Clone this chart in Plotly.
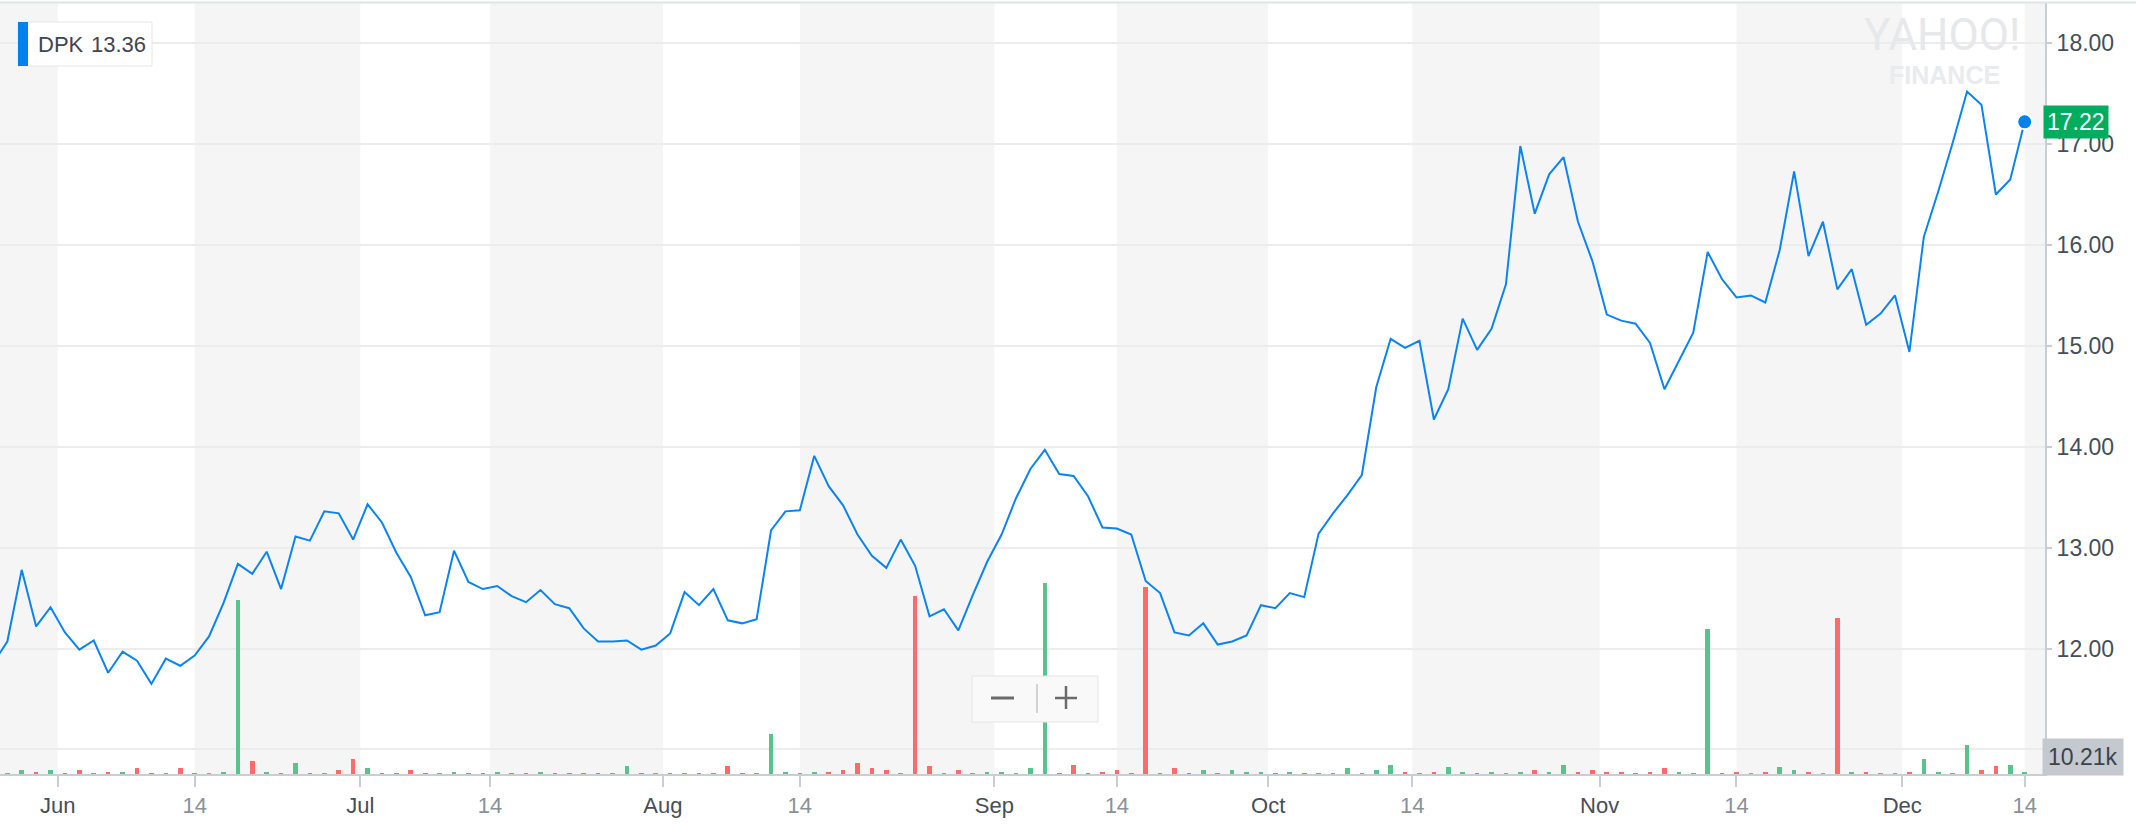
import plotly.graph_objects as go
import pandas as pd

# ---------------- data ----------------
holidays = ["2018-05-28", "2018-07-04", "2018-09-03", "2018-11-22", "2018-12-05"]
dates = [d.strftime("%Y-%m-%d") for d in pd.bdate_range("2018-05-24", "2018-12-14")
         if d.strftime("%Y-%m-%d") not in holidays]

close = [
    11.85, 12.07, 12.78, 12.22, 12.41, 12.16, 11.99, 12.08, 11.76, 11.97,
    11.88, 11.65, 11.90, 11.83, 11.93, 12.12, 12.45, 12.84, 12.74, 12.96,
    12.59, 13.11, 13.07, 13.36, 13.34, 13.08, 13.43, 13.25, 12.95, 12.71,
    12.33, 12.36, 12.97, 12.66, 12.59, 12.62, 12.52, 12.46, 12.58, 12.44,
    12.40, 12.20, 12.07, 12.07, 12.08, 11.99, 12.03, 12.15, 12.56, 12.43,
    12.59, 12.28, 12.25, 12.29, 13.17, 13.36, 13.37, 13.91, 13.61, 13.42,
    13.13, 12.92, 12.80, 13.08, 12.82, 12.32, 12.39, 12.18, 12.53, 12.86,
    13.13, 13.49, 13.78, 13.97, 13.73, 13.71, 13.51, 13.20, 13.19, 13.13,
    12.67, 12.55, 12.16, 12.13, 12.25, 12.04, 12.07, 12.13, 12.43, 12.40,
    12.55, 12.51, 13.14, 13.34, 13.52, 13.72, 14.59, 15.07, 14.98, 15.05,
    14.27, 14.57, 15.27, 14.96, 15.17, 15.61, 16.98, 16.31, 16.70, 16.87,
    16.23, 15.84, 15.31, 15.25, 15.22, 15.03, 14.57, 14.85, 15.13, 15.93,
    15.66, 15.48, 15.50, 15.43, 15.95, 16.73, 15.89, 16.23, 15.56, 15.76,
    15.21, 15.32, 15.50, 14.94, 16.08, 16.53, 17.01, 17.52, 17.39, 16.50,
    16.65, 17.22,
]

volume_k = [
    4.1, 4.1, 22.0, 11.7, 22.0, 4.1, 20.4, 4.1, 11.7, 11.7,
    30.6, 4.1, 4.1, 30.6, 4.1, 4.1, 11.7, 889.8, 67.9, 11.7,
    4.1, 57.7, 4.1, 4.1, 20.4, 76.6, 30.6, 4.1, 2.6, 20.4,
    4.1, 4.1, 11.7, 4.1, 4.1, 11.7, 4.1, 2.6, 11.7, 4.1,
    2.6, 4.1, 4.1, 2.6, 39.3, 4.1, 4.1, 2.6, 4.1, 2.6,
    2.6, 39.3, 4.1, 2.6, 204.2, 11.7, 4.1, 11.7, 11.7, 20.4,
    57.7, 30.6, 20.4, 4.1, 910.2, 39.3, 2.6, 20.4, 4.1, 11.7,
    11.7, 4.1, 30.6, 973.5, 4.1, 47.5, 4.1, 11.7, 20.4, 4.1,
    956.2, 2.6, 30.6, 4.1, 20.4, 4.1, 20.4, 11.7, 11.7, 4.1,
    11.7, 2.6, 4.1, 2.6, 30.6, 2.6, 20.4, 47.5, 11.7, 4.1,
    11.7, 35.7, 11.7, 4.1, 11.7, 4.1, 11.7, 20.4, 11.7, 46.0,
    11.7, 20.4, 11.7, 11.7, 4.1, 11.7, 30.6, 11.7, 4.1, 740.2,
    4.1, 11.7, 4.1, 11.7, 35.7, 20.4, 10.2, 4.1, 794.3, 10.2,
    10.2, 4.1, 2.6, 10.2, 76.6, 10.2, 4.1, 148.0, 20.4, 39.3,
    47.5, 10.21,
]

tick_dates = ["2018-06-01", "2018-06-14", "2018-07-01", "2018-07-14", "2018-08-01",
              "2018-08-14", "2018-09-01", "2018-09-14", "2018-10-01", "2018-10-14",
              "2018-11-01", "2018-11-14", "2018-12-01", "2018-12-14"]
tick_labels = ["Jun", "14", "Jul", "14", "Aug", "14", "Sep", "14", "Oct", "14",
               "Nov", "14", "Dec", "14"]

price_ticks = [11, 12, 13, 14, 15, 16, 17, 18]
ticker = "DPK"
prev_close = "13.36"
last_volume_label = "10.21k"

assert len(dates) == len(close) == len(volume_k), (len(dates), len(close), len(volume_k))

# ---------------- derived ----------------
xpos = list(range(len(dates)))
volume = [v * 1000 for v in volume_k]
GREEN, RED = "#58c48c", "#ff6b6b"
bar_colors = [GREEN] + [GREEN if close[i] >= close[i - 1] else RED for i in range(1, len(close))]

def tick_position(td, label):
    j = next(i for i, d in enumerate(dates) if d >= td)
    if label == "14" and dates[j] == td:
        return j
    return j - 0.5

tick_pos = [tick_position(d, l) for d, l in zip(tick_dates, tick_labels)]
tick_text = [l if l != "14" else "<span style='color:#8b9197'>14</span>" for l in tick_labels]

X_RANGE = [0.493, 142.41]
Y_RANGE = [10.757, 18.398]
V_RANGE = [0, 771 * 5105]

FONT = "Helvetica Neue, Helvetica, Liberation Sans, Arial, sans-serif"

# pixel -> paper helpers (plot area: x 0..2045, y 3..774)
PW, PT, PB = 2045.0, 3.0, 774.0
def px(x):
    return x / PW
def py(y):
    return (PB - y) / (PB - PT)

fig = go.Figure()

fig.add_trace(go.Bar(x=xpos, y=volume, marker=dict(color=bar_colors, line=dict(width=0)),
                     width=0.32, yaxis="y", hoverinfo="skip", showlegend=False))
fig.add_trace(go.Scatter(x=xpos, y=close, mode="lines", yaxis="y2",
                         line=dict(color="#0a84f2", width=2), showlegend=False))
fig.add_trace(go.Scatter(x=[xpos[-1]], y=[close[-1]], mode="markers", yaxis="y2",
                         marker=dict(size=15, color="#0081f2", line=dict(color="white", width=2)),
                         cliponaxis=False, showlegend=False))

shapes = []
# alternating shaded bands: from each "14" tick to next month tick
bounds = [X_RANGE[0]] + tick_pos + [X_RANGE[1]]
labels_b = ["start"] + tick_labels + ["end"]
for a in range(len(bounds) - 1):
    if labels_b[a] in ("start", "14"):
        shapes.append(dict(type="rect", xref="x", yref="paper", x0=bounds[a], x1=bounds[a + 1],
                           y0=0, y1=1, fillcolor="#f5f5f5", line=dict(width=0), layer="below"))

# top border line
shapes.append(dict(type="line", xref="paper", yref="paper", x0=0, x1=2136 / PW, y0=py(2.5), y1=py(2.5),
                   line=dict(color="#dfe3e8", width=2), layer="above"))

# ticker box (top-left)
shapes.append(dict(type="rect", xref="paper", yref="paper", x0=px(18), x1=px(152), y0=py(66), y1=py(22),
                   fillcolor="white", line=dict(color="#e6e6e6", width=1), layer="above"))
shapes.append(dict(type="rect", xref="paper", yref="paper", x0=px(18), x1=px(28), y0=py(66), y1=py(22),
                   fillcolor="#0081f2", line=dict(width=0), layer="above"))

# zoom widget
shapes.append(dict(type="rect", xref="paper", yref="paper", x0=px(972), x1=px(1098), y0=py(722), y1=py(676),
                   fillcolor="#f9f9f9", line=dict(color="#e4e4e4", width=1), layer="above"))
shapes.append(dict(type="line", xref="paper", yref="paper", x0=px(991), x1=px(1014), y0=py(698), y1=py(698),
                   line=dict(color="#6b6b6b", width=3), layer="above"))
shapes.append(dict(type="line", xref="paper", yref="paper", x0=px(1037), x1=px(1037), y0=py(713), y1=py(684),
                   line=dict(color="#c4c4c4", width=1.5), layer="above"))
shapes.append(dict(type="line", xref="paper", yref="paper", x0=px(1055), x1=px(1077), y0=py(698), y1=py(698),
                   line=dict(color="#6b6b6b", width=2.5), layer="above"))
shapes.append(dict(type="line", xref="paper", yref="paper", x0=px(1066), x1=px(1066), y0=py(709), y1=py(686),
                   line=dict(color="#6b6b6b", width=2.5), layer="above"))

annotations = [
    dict(xref="paper", yref="paper", x=px(36), y=py(44), xanchor="left", yanchor="middle",
         text=ticker, showarrow=False, font=dict(family=FONT, size=22, color="#3f464d")),
    dict(xref="paper", yref="paper", x=px(89), y=py(44), xanchor="left", yanchor="middle",
         text=prev_close, showarrow=False, font=dict(family=FONT, size=22, color="#3f464d")),
    dict(xref="paper", yref="y2", x=1, y=close[-1], xanchor="left", yanchor="middle", xshift=-2,
         text=f"{close[-1]:.2f}", showarrow=False, bgcolor="#00ad5f", borderpad=3,
         font=dict(family=FONT, size=23, color="white")),
    dict(xref="paper", yref="paper", x=1, y=py(757), xanchor="left", yanchor="middle", xshift=-3,
         text=last_volume_label, showarrow=False, bgcolor="#c4c8cf", borderpad=5,
         font=dict(family=FONT, size=23, color="#3c4249")),
    dict(xref="paper", yref="paper", x=px(1942), y=py(35), xanchor="center", yanchor="middle",
         text="YAHOO!", showarrow=False,
         font=dict(family="Liberation Sans Narrow, Roboto, Liberation Sans", size=44, color="#e6e8eb")),
    dict(xref="paper", yref="paper", x=px(1944), y=py(75), xanchor="center", yanchor="middle",
         text="<b>FINANCE</b>", showarrow=False,
         font=dict(family="Liberation Sans, Arial", size=25, color="#e9ebee")),
]

fig.update_layout(
    width=2136, height=826,
    margin=dict(l=0, r=91, t=3, b=52),
    paper_bgcolor="white", plot_bgcolor="white",
    showlegend=False, hovermode=False, bargap=0,
    shapes=shapes, annotations=annotations,
    xaxis=dict(range=X_RANGE, tickmode="array", tickvals=tick_pos, ticktext=tick_text,
               ticks="outside", ticklen=11, tickwidth=2, tickcolor="#c9ced4",
               showline=True, linecolor="#c9ced4", linewidth=2, showgrid=False, zeroline=False,
               tickfont=dict(family=FONT, size=22, color="#464e56")),
    yaxis=dict(range=V_RANGE, visible=False, showgrid=False, zeroline=False, fixedrange=True),
    yaxis2=dict(range=Y_RANGE, overlaying="y", side="right", anchor="x",
                tickmode="array", tickvals=price_ticks,
                ticktext=["" if v == 11 else f"{v:.2f}" for v in price_ticks],
                ticks="outside", ticklen=5, tickwidth=2, tickcolor="#c9ced4",
                showline=True, linecolor="#c9ced4", linewidth=2,
                showgrid=True, gridcolor="#ececec", gridwidth=2, zeroline=False,
                tickfont=dict(family=FONT, size=23, color="#464e56")),
)

fig.write_html("out.html", config={"displayModeBar": False},
               post_script="document.body.style.margin='0px';document.body.style.overflow='hidden';")
